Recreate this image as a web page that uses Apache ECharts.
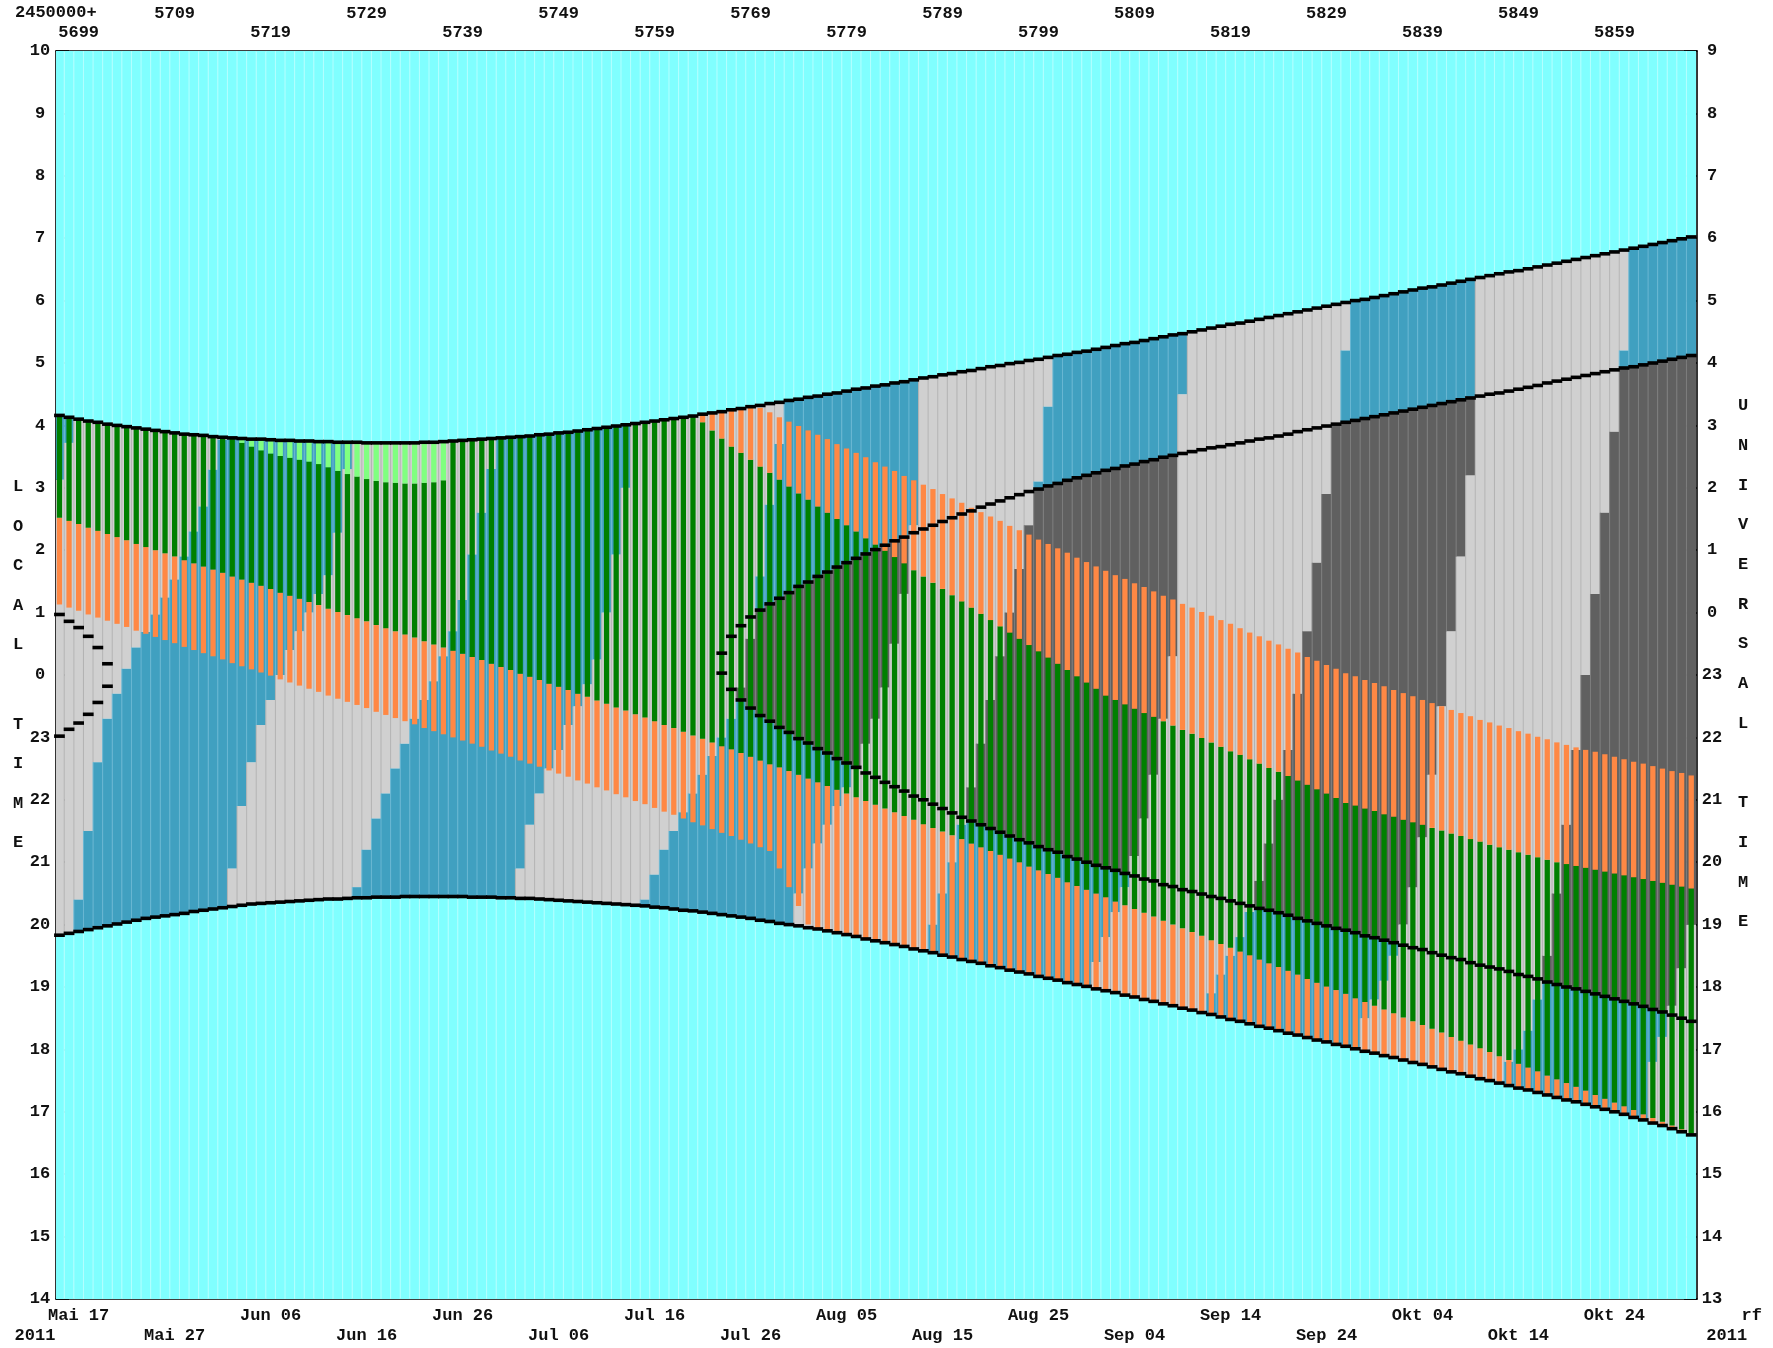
<!DOCTYPE html>
<html><head><meta charset="utf-8"><title>Observability 2011</title>
<script src="https://cdn.jsdelivr.net/npm/echarts@6.0.0/dist/echarts.min.js"></script>
<style>html,body{margin:0;padding:0;background:#fff;}#chart{width:1773px;height:1348px;}</style>
</head><body><div id="chart"></div>
<script>
// ---------------- DATA (times in local time, hours; days = JD-2450000) ----------------
const FIRST_DAY = 5697;
const X_MIN = 5696.64, X_MAX = 5867.6;
const TICK_DAYS = [5699,5709,5719,5729,5739,5749,5759,5769,5779,5789,5799,5809,5819,5829,5839,5849,5859];
const DATE_LABELS = ['Mai 17','Mai 27','Jun 06','Jun 16','Jun 26','Jul 06','Jul 16','Jul 26','Aug 05','Aug 15','Aug 25','Sep 04','Sep 14','Sep 24','Okt 04','Okt 14','Okt 24'];

const SUNSET = [19.83,19.86,19.89,19.92,19.95,19.98,20.01,20.04,20.07,20.10,
20.12,20.14,20.16,20.18,20.21,20.23,20.25,20.27,20.29,20.31,
20.33,20.34,20.35,20.36,20.37,20.38,20.39,20.40,20.41,20.41,
20.42,20.43,20.43,20.44,20.44,20.44,20.45,20.45,20.45,20.45,
20.45,20.45,20.45,20.44,20.44,20.44,20.43,20.43,20.42,20.42,
20.41,20.40,20.39,20.38,20.37,20.36,20.35,20.34,20.33,20.32,
20.31,20.30,20.28,20.27,20.25,20.23,20.22,20.20,20.18,20.16,
20.14,20.12,20.10,20.07,20.05,20.02,20.00,19.98,19.95,19.93,
19.90,19.87,19.84,19.81,19.77,19.74,19.71,19.68,19.65,19.61,
19.58,19.55,19.51,19.48,19.44,19.41,19.38,19.34,19.31,19.27,
19.24,19.21,19.17,19.14,19.11,19.07,19.04,19.01,18.97,18.94,
18.91,18.87,18.84,18.80,18.77,18.73,18.70,18.66,18.63,18.59,
18.56,18.52,18.48,18.45,18.41,18.37,18.34,18.30,18.26,18.23,
18.19,18.15,18.12,18.08,18.05,18.01,17.97,17.94,17.90,17.87,
17.83,17.79,17.76,17.72,17.68,17.64,17.61,17.57,17.53,17.50,
17.46,17.42,17.38,17.35,17.31,17.27,17.23,17.19,17.16,17.12,
17.08,17.04,17.00,16.96,16.91,16.87,16.82,16.78,16.73,16.68,
16.63];

const SUNRISE = [4.16,4.13,4.10,4.07,4.05,4.02,4.00,3.98,3.96,3.94,
3.92,3.90,3.88,3.86,3.85,3.84,3.82,3.81,3.80,3.79,
3.78,3.78,3.77,3.76,3.76,3.75,3.75,3.74,3.74,3.73,
3.73,3.73,3.72,3.72,3.72,3.72,3.72,3.72,3.73,3.73,
3.74,3.75,3.76,3.77,3.78,3.79,3.80,3.81,3.82,3.83,
3.85,3.86,3.88,3.89,3.91,3.93,3.95,3.97,3.99,4.01,
4.03,4.05,4.07,4.09,4.11,4.13,4.15,4.18,4.20,4.22,
4.25,4.27,4.30,4.32,4.35,4.37,4.40,4.42,4.45,4.47,
4.50,4.52,4.55,4.58,4.60,4.63,4.65,4.68,4.70,4.73,
4.76,4.78,4.81,4.83,4.86,4.88,4.91,4.94,4.96,4.99,
5.01,5.04,5.06,5.09,5.12,5.14,5.17,5.19,5.22,5.25,
5.28,5.31,5.33,5.36,5.39,5.42,5.45,5.47,5.50,5.53,
5.56,5.59,5.62,5.64,5.67,5.70,5.73,5.76,5.79,5.82,
5.85,5.88,5.91,5.94,5.97,6.00,6.02,6.05,6.08,6.11,
6.14,6.17,6.20,6.22,6.25,6.28,6.31,6.34,6.37,6.40,
6.43,6.46,6.48,6.51,6.54,6.57,6.60,6.63,6.66,6.69,
6.72,6.75,6.78,6.81,6.84,6.87,6.90,6.93,6.96,6.99,
7.02];

// astronomical twilight (end of evening / start of morning); null = no astronomical night
const DUSK_EARLY = [23.02,23.13,23.23,23.37,23.56,23.82];
const DAWN_EARLY = [0.97,0.86,0.76,0.62,0.44,0.18];
const TWI_FIRST_DAY = 5766;
const DUSK_LATE = [0.03,23.77,23.60,23.47,23.35,23.26,23.16,23.08,22.98,22.91,
22.82,22.75,22.66,22.59,22.52,22.43,22.36,22.28,22.21,22.14,
22.06,22.00,21.93,21.86,21.79,21.72,21.66,21.60,21.54,21.48,
21.42,21.36,21.31,21.25,21.20,21.16,21.09,21.05,21.00,20.95,
20.91,20.87,20.82,20.78,20.73,20.70,20.64,20.61,20.56,20.53,
20.49,20.45,20.42,20.38,20.34,20.30,20.26,20.23,20.19,20.15,
20.10,20.06,20.02,19.98,19.94,19.91,19.87,19.82,19.79,19.75,
19.71,19.67,19.63,19.60,19.55,19.51,19.47,19.44,19.39,19.35,
19.32,19.29,19.25,19.20,19.17,19.13,19.08,19.04,19.00,18.97,
18.93,18.89,18.85,18.81,18.77,18.73,18.69,18.64,18.60,18.55,
18.50,18.45];
const DAWN_LATE = [0.35,0.62,0.79,0.93,1.04,1.14,1.23,1.32,1.42,1.49,
1.58,1.65,1.73,1.80,1.87,1.94,2.01,2.08,2.15,2.21,
2.28,2.34,2.40,2.46,2.52,2.58,2.63,2.69,2.74,2.79,
2.84,2.89,2.94,2.98,3.03,3.07,3.12,3.16,3.20,3.24,
3.28,3.31,3.35,3.38,3.42,3.45,3.49,3.52,3.55,3.58,
3.61,3.64,3.66,3.69,3.72,3.75,3.78,3.80,3.83,3.86,
3.90,3.93,3.96,3.99,4.02,4.05,4.08,4.11,4.14,4.17,
4.20,4.23,4.26,4.29,4.32,4.35,4.38,4.41,4.44,4.47,
4.50,4.52,4.55,4.58,4.61,4.64,4.68,4.71,4.74,4.77,
4.80,4.83,4.86,4.89,4.92,4.94,4.97,5.00,5.03,5.06,
5.09,5.12];

// Moon above horizon during the night: from / to (15 = before sunset, 9 = after sunrise, null = moon down all night)
const MOON_FROM = [15,15,20.40,21.50,22.60,23.30,23.70,0.10,0.44,0.69,
0.97,1.24,1.53,1.90,2.30,2.70,3.29,3.77,15,15,
15,15,15,15,15,15,15,15,15,15,
15,20.60,21.20,21.70,22.10,22.50,22.90,23.30,23.60,23.90,
0.30,0.70,1.20,1.93,2.60,3.30,null,null,15,15,
15,15,15,15,15,15,15,15,15,15,
15,20.40,20.80,21.20,21.50,21.80,22.10,22.40,22.70,23.00,
23.30,23.80,0.58,1.58,2.73,3.70,null,15,15,15,
15,15,15,15,15,15,15,15,15,15,
15,20.00,20.50,21.00,21.60,22.20,22.90,23.60,0.30,1.00,
1.70,2.40,3.10,4.30,null,null,null,15,15,15,
15,15,15,15,15,15,15,15,15,15,
18.90,19.20,19.50,19.80,20.20,20.70,21.30,22.00,22.80,23.70,
0.70,1.80,2.90,4.00,5.20,null,15,15,15,15,
15,15,15,15,15,15,15,15,15,15,
17.50,17.80,18.00,18.30,18.80,19.50,20.50,21.60,22.80,0.00,
1.30,2.60,3.90,5.20,null,null,15,15,15,15,
15];
const MOON_TO = [3.13,3.72,9,9,9,9,9,9,9,9,
9,9,9,9,9,9,9,9,20.90,21.90,
22.60,23.20,23.60,0.00,0.40,0.70,1.00,1.30,1.60,2.28,
3.30,9,9,9,9,9,9,9,9,9,
9,9,9,9,9,9,null,null,20.90,21.60,
22.10,22.50,22.80,23.20,23.50,23.85,0.25,1.00,1.93,3.00,
9,9,9,9,9,9,9,9,9,9,
9,9,9,9,9,9,null,20.50,20.90,21.30,
21.60,21.90,22.20,22.50,22.90,23.30,23.80,0.50,1.30,2.40,
9,9,9,9,9,9,9,9,9,9,
9,9,9,9,null,null,null,19.00,19.40,19.80,
20.20,20.60,21.10,21.70,22.40,23.30,0.30,4.50,9,9,
9,9,9,9,9,9,9,9,9,9,
9,9,9,9,9,null,18.50,18.80,19.10,19.50,
20.00,20.60,21.40,22.40,23.50,0.70,1.90,3.20,9,9,
9,9,9,9,9,9,9,9,9,9,
9,9,9,9,null,null,17.80,18.20,18.70,19.30,
20.00];

// Target: rise (start of low-altitude orange band), end of low band (T1), start of setting band (B2), set (T2), pale-green start (LG)
const RISE_FIRST_DAY = 5697;
const RISE = [1.13,1.08,1.03,0.97,0.92,0.87,0.82,0.77,0.71,0.66,
0.61,0.56,0.51,0.45,0.40,0.35,0.30,0.25,0.19,0.14,
0.09,0.04,23.99,23.93,23.88,23.83,23.78,23.73,23.67,23.62,
23.57,23.52,23.47,23.41,23.36,23.31,23.26,23.21,23.15,23.10,
23.05,23.00,22.95,22.90,22.85,22.79,22.74,22.69,22.63,22.58,
22.53,22.47,22.42,22.37,22.31,22.26,22.20,22.15,22.09,22.04,
21.98,21.93,21.87,21.81,21.76,21.70,21.64,21.59,21.53,21.47,
21.42,21.36,21.30,21.24,21.18,20.90,20.60,20.30,20.00];
const T1 = [2.52,2.47,2.42,2.36,2.31,2.26,2.21,2.16,2.10,2.05,
2.00,1.95,1.90,1.84,1.79,1.74,1.69,1.64,1.58,1.53,
1.48,1.43,1.38,1.32,1.27,1.22,1.17,1.12,1.06,1.01,
0.96,0.91,0.86,0.80,0.75,0.70,0.65,0.60,0.54,0.49,
0.44,0.39,0.34,0.29,0.24,0.18,0.13,0.08,0.02,23.97,
23.92,23.86,23.81,23.76,23.70,23.65,23.59,23.54,23.48,23.43,
23.37,23.32,23.26,23.20,23.15,23.09,23.03,22.98,22.92,22.86,
22.81,22.75,22.69,22.63,22.57,22.52,22.46,22.40,22.34,22.28,
22.22,22.16,22.10,22.04,21.98,21.92,21.86,21.80,21.74,21.68,
21.61,21.55,21.49,21.43,21.37,21.30,21.24,21.18,21.12,21.06,
21.00,20.93,20.87,20.81,20.75,20.68,20.62,20.56,20.50,20.44,
20.37,20.31,20.25,20.19,20.13,20.06,20.00,19.94,19.88,19.82,
19.75,19.69,19.63,19.57,19.51,19.44,19.38,19.32,19.26,19.20,
19.13,19.07,19.01,18.95,18.89,18.82,18.76,18.70,18.64,18.58,
18.51,18.45,18.39,18.33,18.27,18.20,18.14,18.08,18.02,17.96,
17.89,17.83,17.77,17.71,17.65,17.58,17.52,17.46,17.40,17.34,
17.27,17.21,17.15,17.09,17.03,16.96,16.90,16.84,16.78,16.72,
16.65];
const B2_FIRST_DAY = 5762;
const B2 = [4.30,4.20,4.05,3.92,3.79,3.66,3.56,3.45,3.34,3.24,
3.13,3.02,2.91,2.81,2.70,2.60,2.50,2.40,2.30,2.19,
2.09,1.99,1.89,1.79,1.68,1.58,1.48,1.38,1.28,1.18,
1.08,0.98,0.88,0.78,0.68,0.58,0.48,0.38,0.28,0.18,
0.08,23.98,23.88,23.78,23.67,23.60,23.53,23.46,23.39,23.33,
23.26,23.19,23.12,23.06,22.99,22.92,22.85,22.78,22.72,22.65,
22.58,22.51,22.45,22.38,22.31,22.24,22.17,22.10,22.03,21.95,
21.91,21.86,21.82,21.77,21.73,21.68,21.64,21.60,21.55,21.51,
21.46,21.42,21.37,21.33,21.28,21.24,21.20,21.16,21.12,21.08,
21.04,21.00,20.97,20.94,20.91,20.88,20.85,20.82,20.79,20.76,
20.73,20.70,20.67,20.64,20.61,20.58];
const T2_FIRST_DAY = 5767;
const T2 = [4.50,4.43,4.35,4.28,4.21,4.13,4.06,3.99,3.92,3.85,
3.78,3.70,3.63,3.56,3.49,3.41,3.34,3.27,3.19,3.12,
3.05,2.98,2.90,2.83,2.76,2.68,2.61,2.54,2.47,2.39,
2.32,2.25,2.17,2.10,2.03,1.96,1.88,1.81,1.74,1.67,
1.60,1.54,1.47,1.41,1.34,1.27,1.21,1.14,1.08,1.01,
0.95,0.88,0.82,0.75,0.68,0.62,0.55,0.49,0.42,0.36,
0.29,0.23,0.16,0.10,0.03,23.98,23.92,23.87,23.82,23.76,
23.71,23.66,23.60,23.55,23.50,23.44,23.39,23.34,23.28,23.24,
23.19,23.15,23.10,23.06,23.01,22.97,22.92,22.88,22.84,22.80,
22.77,22.73,22.69,22.65,22.61,22.58,22.54,22.50,22.46,22.43,
22.39];
const LG_FIRST_DAY = 5716;
const LG = [3.72,3.66,3.60,3.55,3.51,3.48,3.45,3.42,3.38,3.33,3.27,3.22,3.18,3.14,3.11,3.09,3.08,3.07,3.07,3.08,3.09,3.12];

// ---------------- RENDERING ----------------
const COL = {day:'#80ffff', dayEdge:'#b4ffff', moon:'#d0d0d0', moonEdge:'#b2b2b2',
  twi:'#40a0c0', twiEdge:'#68b6d2', dark:'#606060', darkEdge:'#7c7c7c',
  orange:'#ff8844', green:'#008000', lgreen:'#80ff80'};
const EDGE = {day:COL.dayEdge, moon:COL.moonEdge, twi:COL.twiEdge, dark:COL.darkEdge};
const FONT = '"Liberation Mono","Courier New",monospace';
const DAYS = [];
for (let d = FIRST_DAY; d < FIRST_DAY + SUNSET.length; d++) DAYS.push([d]);
const DUSK = [], DAWN = [];
for (let i = 0; i < SUNSET.length; i++) {
  const jd = FIRST_DAY + i;
  let dk = null, dw = null;
  if (i < DUSK_EARLY.length) { dk = DUSK_EARLY[i]; dw = DAWN_EARLY[i]; }
  const j = jd - TWI_FIRST_DAY;
  if (j >= 0 && j < DUSK_LATE.length) { dk = DUSK_LATE[j]; dw = DAWN_LATE[j]; }
  DUSK.push(dk); DAWN.push(dw);
}
const toH = lt => ((lt - 14) % 24 + 24) % 24;   // axis value: hours after 14:00 LT
function at(arr, first, jd) { const i = jd - first; return (i >= 0 && i < arr.length) ? arr[i] : undefined; }

function rectFor(api, jd, half, h0, h1, fill) {
  const a = api.coord([jd - half, h1]), b = api.coord([jd + half, h0]);
  return {type:'rect', shape:{x:a[0], y:a[1], width:b[0]-a[0], height:b[1]-a[1]}, style:{fill:fill}};
}

function renderBg(params, api) {
  const jd = api.value(0), i = jd - FIRST_DAY;
  const S = toH(SUNSET[i]), R = toH(SUNRISE[i]);
  const D = DUSK[i] == null ? null : toH(DUSK[i]);
  const A = DAWN[i] == null ? null : toH(DAWN[i]);
  const segs = [[0, S, 'day'], [R, 20, 'day']];
  const zones = (D != null) ? [[S, D, 'twi'], [D, A, 'dark'], [A, R, 'twi']] : [[S, R, 'twi']];
  const mf = MOON_FROM[i], mt = MOON_TO[i];
  zones.forEach(([a, b, c]) => {
    if (mf == null) { segs.push([a, b, c]); return; }
    const u0 = Math.max(a, toH(mf)), u1 = Math.min(b, toH(mt));
    if (u1 > u0) {
      segs.push([u0, u1, 'moon']);
      if (u0 > a) segs.push([a, u0, c]);
      if (b > u1) segs.push([u1, b, c]);
    } else segs.push([a, b, c]);
  });
  const children = [];
  segs.filter(s => s[1] > s[0]).forEach(s => {
    children.push(rectFor(api, jd, 0.5, s[0], s[1], COL[s[2]]));
    const a = api.coord([jd - 0.5, s[1]]), b = api.coord([jd - 0.5, s[0]]);
    children.push({type:'rect', shape:{x:a[0]-0.5, y:a[1], width:1, height:b[1]-a[1]}, style:{fill:EDGE[s[2]]}});
  });
  return {type:'group', children};
}

function renderFg(params, api) {
  const jd = api.value(0), i = jd - FIRST_DAY;
  const S = toH(SUNSET[i]), R = toH(SUNRISE[i]);
  const rv = at(RISE, RISE_FIRST_DAY, jd);
  const rise = rv === undefined ? S : toH(rv);
  const t1 = toH(T1[i]);
  const bv = at(B2, B2_FIRST_DAY, jd), tv = at(T2, T2_FIRST_DAY, jd), lv = at(LG, LG_FIRST_DAY, jd);
  const b2 = bv === undefined ? 99 : toH(bv);
  const t2 = tv === undefined ? 99 : toH(tv);
  const lg = lv === undefined ? 99 : toH(lv);
  const segs = [[rise, t1, 'orange'], [t1, Math.min(b2, lg), 'green'], [lg, b2, 'lgreen'], [b2, t2, 'orange']];
  const children = [];
  segs.forEach(([a, b, c]) => {
    const lo = Math.max(a, S), hi = Math.min(b, R);
    if (hi > lo) children.push(rectFor(api, jd, 0.275, lo, hi, COL[c]));
  });
  return {type:'group', children};
}

function renderDash(params, api) {
  const jd = api.value(0), i = jd - FIRST_DAY;
  const vals = [SUNSET[i], SUNRISE[i], DUSK[i], DAWN[i]].filter(v => v != null).map(toH);
  return {type:'group', children: vals.map(h => {
    const p0 = api.coord([jd - 0.56, h]), p1 = api.coord([jd + 0.56, h]);
    return {type:'line', shape:{x1:p0[0], y1:p0[1], x2:p1[0], y2:p1[1]}, style:{stroke:'#000', lineWidth:3.6}};
  })};
}

const lab = {fontFamily:FONT, fontWeight:'bold', fontSize:17, color:'#111'};
const even = TICK_DAYS.filter((d, j) => j % 2 === 0), odd = TICK_DAYS.filter((d, j) => j % 2 === 1);
const dateOf = v => DATE_LABELS[TICK_DAYS.indexOf(Math.round(v))] || '';
function xAx(pos, showLine, ticks, labels, margin, fmt, tickLen) {
  return {type:'value', position:pos, min:X_MIN, max:X_MAX, gridIndex:0,
    axisLine:{show:showLine, onZero:false, lineStyle:{color:'#000', width:1.6}},
    axisTick:{show:ticks, inside:true, length:tickLen, customValues:TICK_DAYS, lineStyle:{color:'#000', width:1.6}},
    axisLabel:Object.assign({show:true, customValues:labels, margin:margin, formatter:fmt, showMinLabel:true, showMaxLabel:true, hideOverlap:false}, lab),
    splitLine:{show:false}};
}
function yAx(pos, off, margin) {
  return {type:'value', position:pos, min:0, max:20, interval:1, gridIndex:0,
    axisLine:{show:true, onZero:false, lineStyle:{color:'#000', width:1.6}},
    axisTick:{show:true, inside:true, length:13, lineStyle:{color:'#000', width:1.6}},
    axisLabel:Object.assign({show:true, margin:margin, align:'center', formatter:v => String((v + off) % 24), showMinLabel:true, showMaxLabel:true}, lab),
    splitLine:{show:false}};
}
const gtxt = (x, y, text, extra) => ({type:'text', x:x, y:y, silent:true,
  style:Object.assign({text:text, fill:'#111', font:'bold 17px ' + FONT, align:'center', verticalAlign:'middle'}, extra || {})});

const chart = echarts.init(document.getElementById('chart'), null, {renderer:'canvas'});
chart.setOption({
  animation:false,
  backgroundColor:'#ffffff',
  grid:{left:56, top:51, width:1641, height:1248, containLabel:false, outerBoundsMode:'none'},
  xAxis:[
    xAx('bottom', true, true, even, 8, dateOf, 14),
    xAx('bottom', false, false, odd, 28, dateOf, 0),
    xAx('top', true, true, even, 10, v => String(Math.round(v)), 13),
    xAx('top', false, false, odd, 29, v => String(Math.round(v)), 0)
  ],
  yAxis:[yAx('left', 14, 16), yAx('right', 13, 15)],
  series:[
    {type:'custom', name:'sky', renderItem:renderBg, data:DAYS, clip:true, silent:true, z:1, xAxisIndex:0, yAxisIndex:0},
    {type:'custom', name:'target', renderItem:renderFg, data:DAYS, clip:true, silent:true, z:2, xAxisIndex:0, yAxisIndex:0},
    {type:'custom', name:'sun', renderItem:renderDash, data:DAYS, clip:false, silent:true, z:3, xAxisIndex:0, yAxisIndex:0}
  ],
  graphic:[
    gtxt(15, 13, '2450000+', {align:'left'}),
    gtxt(35, 1336, '2011'),
    gtxt(1751.7, 1316, 'rf'),
    gtxt(1726.7, 1336, '2011'),
    gtxt(18, 467, 'L\nO\nC\nA\nL\n \nT\nI\nM\nE', {verticalAlign:'top', lineHeight:39.6}),
    gtxt(1743, 386, 'U\nN\nI\nV\nE\nR\nS\nA\nL\n \nT\nI\nM\nE', {verticalAlign:'top', lineHeight:39.7})
  ]
});
</script>
</body></html>
